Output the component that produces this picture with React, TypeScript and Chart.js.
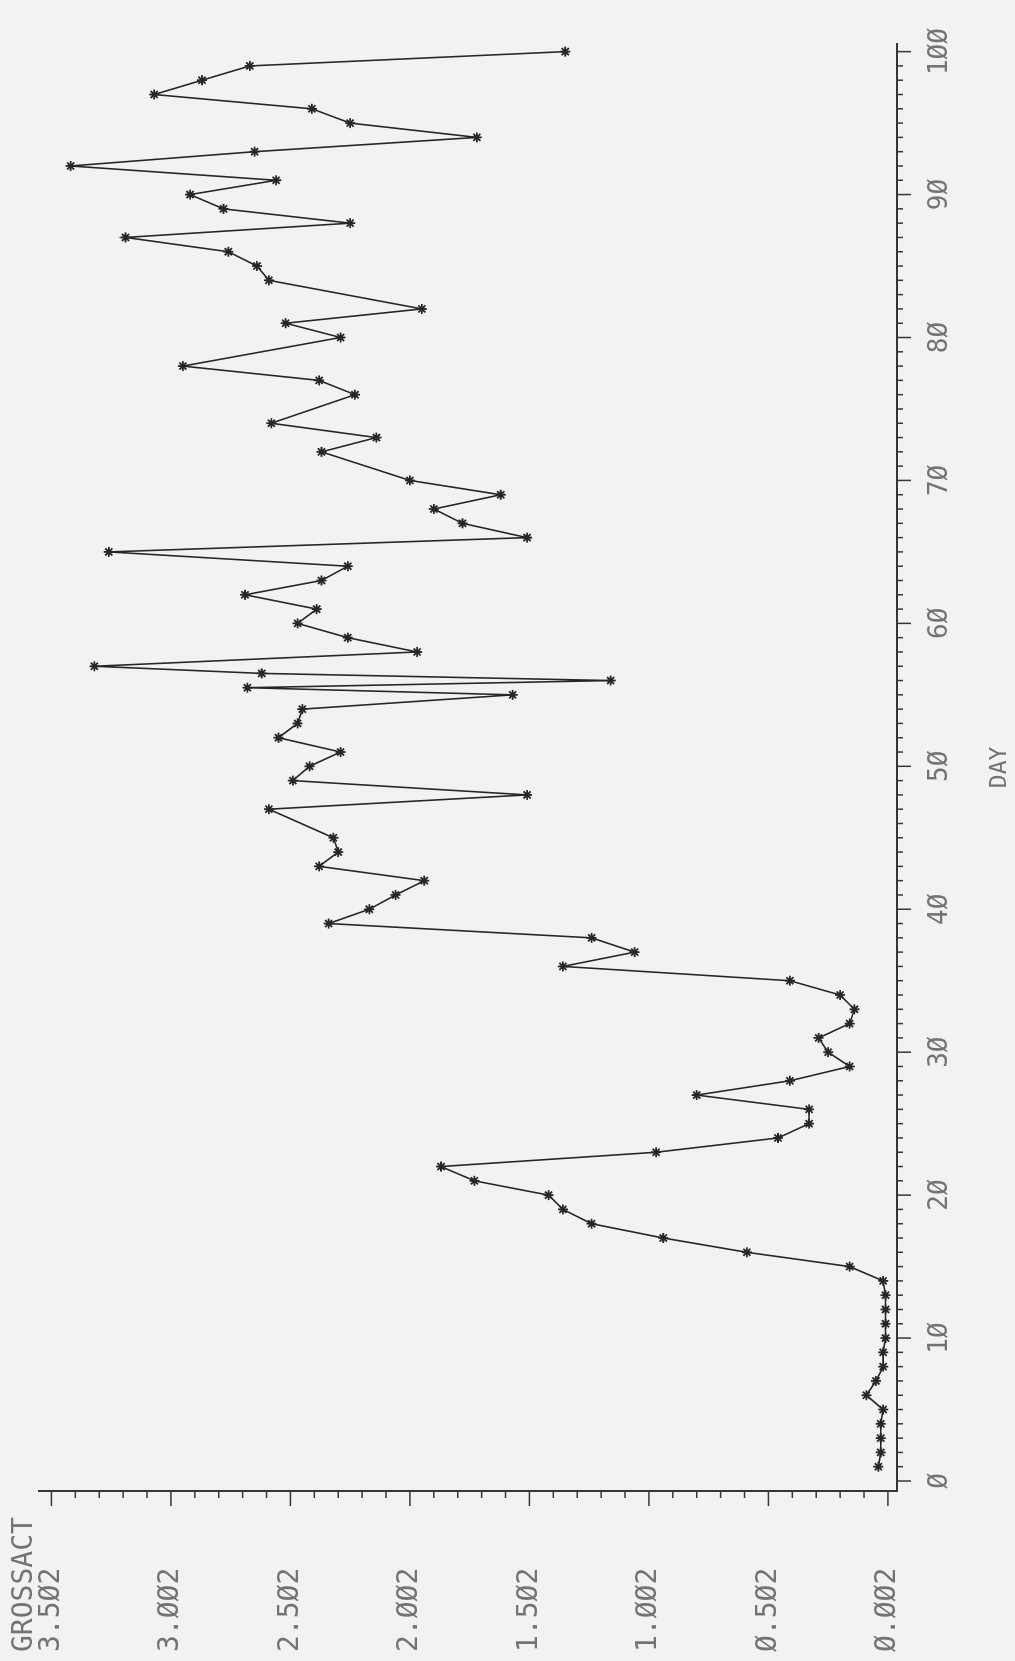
import React, { useEffect, useRef } from "react";
import { Chart, registerables } from "chart.js";

Chart.register(...registerables);

// ---- data ----
const DAYS = [
  1, 2, 3, 4, 5, 6, 7, 8, 9, 10, 11, 12, 13, 14, 15, 16, 17, 18, 19, 20,
  21, 22, 23, 24, 25, 26, 27, 28, 29, 30, 31, 32, 33, 34, 35, 36, 37, 38, 39, 40,
  41, 42, 43, 44, 45, 47, 48, 49, 50, 51, 52, 53, 54, 55, 55.5, 56, 56.5, 57, 58,
  59, 60, 61, 62, 63, 64, 65, 66, 67, 68, 69, 70, 72, 73, 74, 76, 77, 78, 80,
  81, 82, 84, 85, 86, 87, 88, 89, 90, 91, 92, 93, 94, 95, 96, 97, 98, 99, 100,
];
const GROSSACT = [
  0.04, 0.03, 0.03, 0.03, 0.02, 0.09, 0.05, 0.02, 0.02, 0.01, 0.01, 0.01, 0.01, 0.02, 0.16, 0.59, 0.94, 1.24, 1.36, 1.42,
  1.73, 1.87, 0.97, 0.46, 0.33, 0.33, 0.80, 0.41, 0.16, 0.25, 0.29, 0.16, 0.14, 0.20, 0.41, 1.36, 1.06, 1.24, 2.34, 2.17,
  2.06, 1.94, 2.38, 2.30, 2.32, 2.59, 1.51, 2.49, 2.42, 2.29, 2.55, 2.47, 2.45, 1.57, 2.68, 1.16, 2.62, 3.32, 1.97,
  2.26, 2.47, 2.39, 2.69, 2.37, 2.26, 3.26, 1.51, 1.78, 1.90, 1.62, 2.00, 2.37, 2.14, 2.58, 2.23, 2.38, 2.95, 2.29,
  2.52, 1.95, 2.59, 2.64, 2.76, 3.19, 2.25, 2.78, 2.92, 2.56, 3.42, 2.65, 1.72, 2.25, 2.41, 3.07, 2.87, 2.67, 1.35,
];

const DAY_TICKS = [0, 10, 20, 30, 40, 50, 60, 70, 80, 90, 100];
const DAY_LABELS = ["Ø", "1Ø", "2Ø", "3Ø", "4Ø", "5Ø", "6Ø", "7Ø", "8Ø", "9Ø", "1ØØ"];
const VALUE_TICKS = [0, 0.5, 1, 1.5, 2, 2.5, 3, 3.5];
const VALUE_LABELS = ["Ø.ØØ2", "Ø.5Ø2", "1.ØØ2", "1.5Ø2", "2.ØØ2", "2.5Ø2", "3.ØØ2", "3.5Ø2"];
const X_TITLE = "DAY";
const Y_TITLE = "GROSSACT";

// ---- styling ----
const MONO = "'DejaVu Sans Mono', 'Liberation Mono', monospace";
const TEXT_COLOR = "#737373";
const AXIS_COLOR = "#363636";
const LINE_COLOR = "#262626";

const CANVAS_W = 1661;
const CANVAS_H = 1015;

const tickMarks = {
  id: "tickMarks",
  afterDraw(chart: any) {
    const { ctx, scales } = chart;
    const x = scales.x;
    const y = scales.y;
    ctx.save();
    ctx.strokeStyle = AXIS_COLOR;
    ctx.lineWidth = 1.5;
    const xb = x.top;
    for (let d = 0; d <= 100; d++) {
      const px = x.getPixelForValue(d);
      const len = d % 10 === 0 ? 14 : 6;
      ctx.beginPath();
      ctx.moveTo(px, xb);
      ctx.lineTo(px, xb + len);
      ctx.stroke();
    }
    const yr = y.right;
    for (let i = 0; i <= 35; i++) {
      const py = y.getPixelForValue(i / 10);
      const len = i % 5 === 0 ? 15 : 7;
      ctx.beginPath();
      ctx.moveTo(yr, py);
      ctx.lineTo(yr - len, py);
      ctx.stroke();
    }
    ctx.restore();
  },
};

export default function App() {
  const ref = useRef<HTMLCanvasElement | null>(null);

  useEffect(() => {
    if (!ref.current) return;
    const points = DAYS.map((d, i) => ({ x: d, y: GROSSACT[i] }));
    const chart = new Chart(ref.current, {
      type: "line",
      data: {
        datasets: [
          {
            data: points,
            borderColor: LINE_COLOR,
            borderWidth: 1.6,
            pointStyle: "star",
            pointRadius: 5,
            pointBorderWidth: 1.8,
            pointBorderColor: LINE_COLOR,
            pointBackgroundColor: LINE_COLOR,
            tension: 0,
            fill: false,
          },
        ],
      },
      options: {
        responsive: false,
        animation: false,
        devicePixelRatio: 1,
        events: [],
        layout: { padding: { left: 9, right: 27, top: 0, bottom: 0 } },
        plugins: {
          legend: { display: false },
          tooltip: { enabled: false },
          title: {
            display: true,
            text: Y_TITLE,
            align: "start",
            color: TEXT_COLOR,
            font: { family: MONO, size: 28, weight: "normal", lineHeight: 1 },
            padding: { top: 11, bottom: 0 },
          },
        },
        scales: {
          x: {
            type: "linear",
            position: "bottom",
            min: -0.7,
            max: 100.55,
            afterBuildTicks: (scale: any) => {
              scale.ticks = DAY_TICKS.map((v) => ({ value: v }));
            },
            afterFit: (scale: any) => {
              scale.height = 118;
            },
            grid: { display: false, drawTicks: false },
            border: { display: true, color: AXIS_COLOR, width: 2 },
            ticks: {
              autoSkip: false,
              maxRotation: 0,
              minRotation: 0,
              padding: 28,
              color: TEXT_COLOR,
              font: { family: MONO, size: 26 },
              callback: (_v: any, i: number) => DAY_LABELS[i],
            },
            title: {
              display: true,
              text: X_TITLE,
              color: TEXT_COLOR,
              font: { family: MONO, size: 23, lineHeight: 1.2 },
              padding: { top: 0, bottom: 1 },
            },
          },
          y: {
            type: "linear",
            position: "left",
            min: -0.038,
            max: 3.552,
            afterBuildTicks: (scale: any) => {
              scale.ticks = VALUE_TICKS.map((v) => ({ value: v }));
            },
            afterFit: (scale: any) => {
              scale.width = 161;
            },
            grid: { display: false, drawTicks: false },
            border: { display: true, color: AXIS_COLOR, width: 2 },
            ticks: {
              crossAlign: "far",
              autoSkip: false,
              padding: 0,
              color: TEXT_COLOR,
              font: { family: MONO, size: 28 },
              callback: (_v: any, i: number) => VALUE_LABELS[i],
            },
          },
        },
      } as any,
      plugins: [tickMarks],
    });
    return () => chart.destroy();
  }, []);

  return (
    <div
      style={{
        position: "fixed",
        left: 0,
        top: 0,
        width: 1015,
        height: 1661,
        overflow: "hidden",
        background: "#f2f2f2",
      }}
    >
      <canvas
        ref={ref}
        width={CANVAS_W}
        height={CANVAS_H}
        style={{
          position: "absolute",
          left: 0,
          top: 0,
          width: CANVAS_W,
          height: CANVAS_H,
          transformOrigin: "0 0",
          transform: `translate(0px, ${CANVAS_W}px) rotate(-90deg)`,
        }}
      />
    </div>
  );
}
